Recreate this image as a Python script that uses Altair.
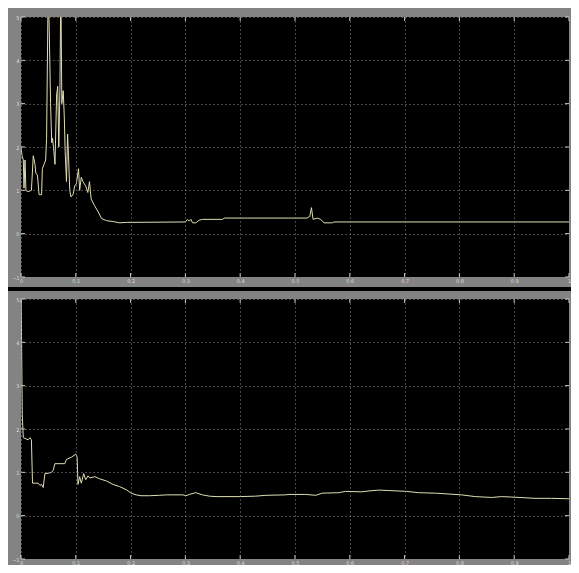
import altair as alt
import pandas as pd

# ---- data ----
top_t = [0, 0.002, 0.0042, 0.0055, 0.0073, 0.009, 0.013, 0.019, 0.0224, 0.0255,
         0.027, 0.030, 0.033, 0.0376, 0.039, 0.042, 0.045, 0.0467, 0.0497, 0.0515,
         0.054, 0.056, 0.0576, 0.060, 0.062, 0.065, 0.067, 0.069, 0.071, 0.0727,
         0.0745, 0.077, 0.079, 0.0806, 0.083, 0.085, 0.0867, 0.089, 0.091, 0.095,
         0.098, 0.101, 0.105, 0.107, 0.110, 0.113, 0.118, 0.122, 0.125, 0.128,
         0.134, 0.141, 0.147, 0.156, 0.168, 0.18, 0.192, 0.30, 0.304, 0.307,
         0.310, 0.313, 0.319, 0.325, 0.331, 0.368, 0.371, 0.522, 0.527, 0.530,
         0.533, 0.541, 0.547, 0.553, 0.568, 0.571, 1.0]
top_v = [2.0, 1.8, 1.7, 1.05, 1.7, 1.0, 0.97, 1.0, 1.8, 1.6,
         1.4, 1.35, 0.9, 0.9, 1.5, 1.6, 1.7, 2.2, 5.8, 4.7,
         3.0, 2.1, 2.2, 1.9, 1.6, 3.2, 3.4, 2.0, 3.3, 5.8,
         3.0, 3.3, 2.7, 1.9, 1.2, 2.3, 1.8, 1.0, 0.85, 0.9,
         1.1, 1.15, 1.5, 1.0, 1.3, 1.2, 1.1, 0.95, 1.2, 0.8,
         0.65, 0.5, 0.35, 0.3, 0.28, 0.25, 0.26, 0.27, 0.33, 0.29,
         0.33, 0.25, 0.25, 0.31, 0.33, 0.33, 0.36, 0.36, 0.4, 0.6,
         0.33, 0.36, 0.33, 0.25, 0.25, 0.27, 0.27]

bot_t = [0, 0.0018, 0.0024, 0.0042, 0.013, 0.0164, 0.019, 0.021, 0.0315, 0.0345,
         0.0376, 0.0406, 0.0436, 0.0497, 0.0558, 0.0588, 0.0618, 0.0709, 0.080, 0.083,
         0.092, 0.100, 0.1024, 0.104, 0.107, 0.110, 0.1145, 0.118, 0.1224, 0.1255,
         0.1345, 0.1436, 0.156, 0.168, 0.18, 0.192, 0.201, 0.21, 0.219, 0.2345,
         0.2527, 0.265, 0.277, 0.295, 0.301, 0.307, 0.319, 0.331, 0.344, 0.356,
         0.398, 0.428, 0.447, 0.483, 0.489, 0.519, 0.538, 0.550, 0.580, 0.592,
         0.622, 0.635, 0.653, 0.671, 0.704, 0.725, 0.756, 0.804, 0.829, 0.859,
         0.877, 0.895, 0.938, 0.968, 1.0]
bot_v = [5.5, 3.0, 2.3, 1.8, 1.75, 1.8, 1.75, 0.75, 0.75, 0.7,
         0.72, 0.65, 0.97, 0.98, 1.0, 1.05, 1.2, 1.2, 1.2, 1.3,
         1.35, 1.42, 1.35, 0.72, 0.9, 0.75, 0.97, 0.83, 0.92, 0.87,
         0.9, 0.85, 0.8, 0.72, 0.67, 0.6, 0.52, 0.48, 0.46, 0.46,
         0.47, 0.48, 0.48, 0.48, 0.46, 0.49, 0.53, 0.48, 0.45, 0.44,
         0.44, 0.45, 0.47, 0.48, 0.49, 0.49, 0.47, 0.52, 0.53, 0.56,
         0.55, 0.57, 0.59, 0.58, 0.56, 0.53, 0.52, 0.48, 0.44, 0.42,
         0.44, 0.43, 0.40, 0.40, 0.39]

x_ticks = [0, 0.1, 0.2, 0.3, 0.4, 0.5, 0.6, 0.7, 0.8, 0.9, 1.0]
y_ticks = [-1, 0, 1, 2, 3, 4, 5]

# ---- styling ----
W = 548
GRAY = "#838383"
LINE = "#e0ddb4"
GRID = "#8f8f8f"
LABEL = "#dcdcdc"
FONT = "DejaVu Sans"

xs = alt.Scale(domain=[0, 1], nice=False, zero=False)
ys = alt.Scale(domain=[-1, 5], nice=False, zero=False)

x_axis = alt.Axis(values=x_ticks, format="~g", grid=True, gridDash=[1, 3], gridColor=GRID,
                  gridWidth=1, ticks=False, domain=False, title=None, labelFontSize=5,
                  labelColor=LABEL, labelFont=FONT, labelPadding=1, labelFlush=False,
                  labelOverlap=False, zindex=1)
y_axis = alt.Axis(values=y_ticks, format="d", grid=True, gridDash=[1, 3], gridColor=GRID,
                  gridWidth=1, ticks=False, domain=False, title=None, labelFontSize=5,
                  labelColor=LABEL, labelFont=FONT, labelPadding=2, labelFlush=False,
                  labelOverlap=False, zindex=1)

one = pd.DataFrame({"a": [0]})


def panel(t, v, h, top_ext, bottom_ext, separator):
    df = pd.DataFrame({"t": t, "v": v})
    frame = alt.Chart(one).mark_rect(color=GRAY).encode(
        x=alt.value(-13), x2=alt.value(W + 2), y=alt.value(-top_ext), y2=alt.value(h + bottom_ext))
    plot_bg = alt.Chart(one).mark_rect(color="black").encode(
        x=alt.value(0), x2=alt.value(W), y=alt.value(0), y2=alt.value(h))
    line = alt.Chart(df).mark_line(color=LINE, strokeWidth=1, clip=True).encode(
        x=alt.X("t:Q", scale=xs, axis=x_axis),
        y=alt.Y("v:Q", scale=ys, axis=y_axis),
    )
    xt = pd.DataFrame({"t": x_ticks})
    yt = pd.DataFrame({"v": y_ticks})
    tick_b = alt.Chart(xt).mark_rule(color="#d0d0d0", strokeWidth=1).encode(
        x=alt.X("t:Q", scale=xs, axis=x_axis), y=alt.value(h), y2=alt.value(h - 4))
    tick_t = alt.Chart(xt).mark_rule(color="#d0d0d0", strokeWidth=1).encode(
        x=alt.X("t:Q", scale=xs, axis=x_axis), y=alt.value(0), y2=alt.value(4))
    tick_l = alt.Chart(yt).mark_rule(color="#d0d0d0", strokeWidth=1).encode(
        y=alt.Y("v:Q", scale=ys, axis=y_axis), x=alt.value(0), x2=alt.value(4))
    tick_r = alt.Chart(yt).mark_rule(color="#d0d0d0", strokeWidth=1).encode(
        y=alt.Y("v:Q", scale=ys, axis=y_axis), x=alt.value(W - 4), x2=alt.value(W))
    layers = [frame, plot_bg, line, tick_b, tick_t, tick_l, tick_r]
    if separator:
        sep = alt.Chart(one).mark_rect(color="black").encode(
            x=alt.value(-13), x2=alt.value(W + 2), y=alt.value(h + 10), y2=alt.value(h + 14))
        layers.append(sep)
    return alt.layer(*layers).properties(width=W, height=h)


top = panel(top_t, top_v, 260, 9, 10, True)
bottom = panel(bot_t, bot_v, 260, 8, 6, False)

chart = alt.vconcat(top, bottom, spacing=0).properties(
    background=GRAY, padding=0
).configure_view(strokeWidth=0, fill="black")

chart.save("out.html", embed_options={"renderer": "svg", "actions": False})
